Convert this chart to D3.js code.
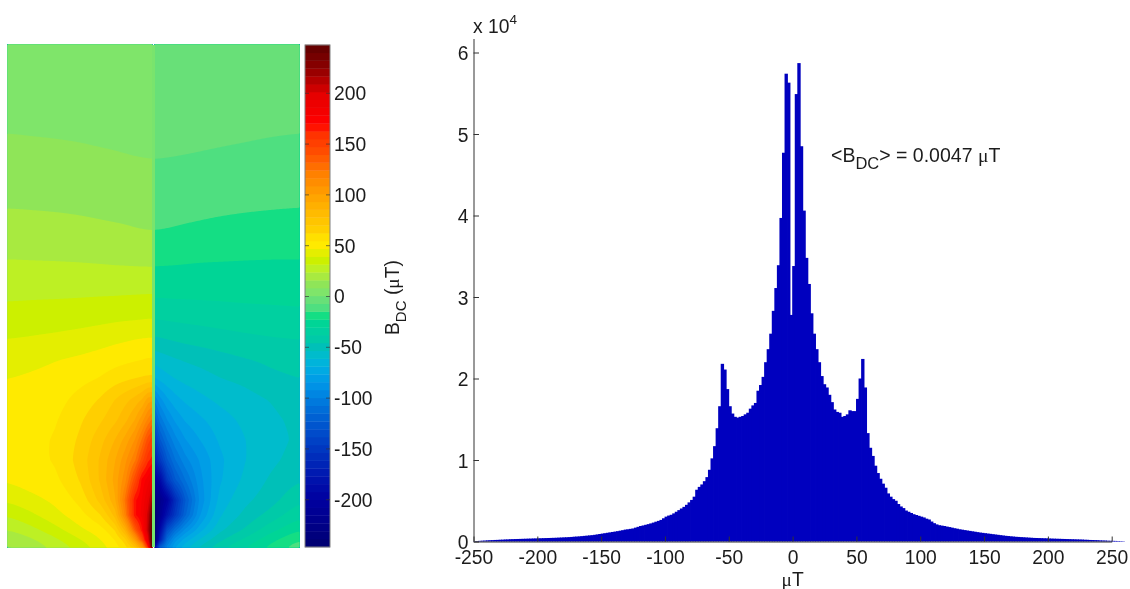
<!DOCTYPE html>
<html><head><meta charset="utf-8">
<script src="https://cdn.jsdelivr.net/npm/d3@7/dist/d3.min.js"></script>
<style>
html,body{margin:0;padding:0;background:#fff;overflow:hidden}
svg{display:block;filter:blur(0.45px)}
text{font-family:"Liberation Sans",Arial,sans-serif;fill:#1c1c1c}
.mu{font-family:"Liberation Serif",serif}
</style></head><body>
<svg id="c" width="1130" height="589"></svg>
<script>
// ---------- histogram data: counts in units of 10^4, one per 2 uT bin ----------
const binStart = -250, binWidth = 2;
const histValues = [
.004,.006,.008,.010,.012,.014,.016,.017,.019,.020,
.022,.023,.025,.026,.028,.029,.030,.031,.032,.033,
.034,.035,.036,.037,.038,.039,.040,.041,.042,.043,
.044,.045,.046,.048,.049,.051,.052,.054,.056,.059,
.061,.063,.066,.069,.072,.075,.078,.082,.087,.092,
.097,.102,.107,.112,.117,.122,.127,.133,.139,.146,
.150,.155,.160,.170,.180,.190,.197,.205,.213,.222,
.232,.243,.253,.265,.285,.305,.318,.328,.345,.365,
.385,.405,.425,.450,.480,.510,.550,.635,.670,.700,
.740,.790,.880,1.02,1.17,1.39,1.66,2.18,2.11,1.87,
1.66,1.57,1.53,1.52,1.53,1.54,1.56,1.58,1.63,1.67,
1.70,1.85,1.92,2.02,2.20,2.36,2.55,2.83,3.11,3.39,
3.97,4.77,5.74,5.63,2.78,
3.38,5.49,5.87,4.85,4.06,3.48,3.16,2.80,2.55,2.36,
2.20,2.03,1.93,1.89,1.80,1.71,1.62,1.59,1.58,1.53,
1.54,1.56,1.61,1.60,1.60,1.75,2.00,2.24,1.89,1.33,
1.15,1.05,.93,.84,.77,.71,.66,.59,.55,.52,
.50,.46,.43,.41,.38,.365,.35,.335,.325,.315,
.305,.295,.28,.27,.245,.225,.21,.20,.195,.19,
.183,.177,.17,.163,.157,.15,.145,.14,.135,.13,
.125,.12,.115,.11,.106,.102,.098,.094,.09,.086,
.082,.078,.074,.07,.067,.064,.061,.058,.056,.054,
.052,.05,.048,.046,.044,.043,.042,.041,.04,.039,
.037,.036,.035,.034,.033,.032,.031,.030,.029,.028,
.027,.026,.025,.024,.022,.021,.019,.018,.017,.016,
.014,.013,.012,.010,.009,.008,.007,.006,.005,.004];
const histXTicks = [-250,-200,-150,-100,-50,0,50,100,150,200,250];
const histYTicks = [0,1,2,3,4,5,6];
const xLabel = "T", annotationValue = "= 0.0047 ";

// ---------- field map data: uT read at image rows / columns ----------
const fieldRows = [45,100,135,170,209,235,260,280,302,320,339,360,378,400,420,440,460,480,500,515,530,540,547];
const leftCols  = [8,30,55,80,100,115,125,135,142,148,152];
const leftField = [
[3,3,3,3,3,3,3,3,3,3,3],
[5.9,5.8,5.7,5.6,5.4,5.3,5.2,5.1,5,5,5],
[7.7,7.5,7.3,7,6.6,6.4,6.2,6,6,5.9,5.9],
[11.3,11,10.7,10.3,9.8,9.4,9.1,8.8,8.7,8.6,8.5],
[15.4,15.2,14.9,14.5,14,13.6,13.4,13.1,13,12.9,12.8],
[19.4,19.2,19,18.3,17.6,17.2,16.9,16.3,16.1,15.9,15.9],
[23.2,23,22.8,22.5,22,21.5,21.3,21,20.8,20.8,20.8],
[26.9,27,27.1,27.2,27.4,27.4,27.6,27.6,27.6,27.6,27.6],
[30.9,31.2,31.4,31.7,32,32.1,32.3,32.4,32.6,32.7,32.7],
[34.6,35,35.4,36.1,36.9,37.7,38.1,38.3,38.6,39,39],
[38.6,39.2,40.2,41.6,43.2,44.6,45.4,46.3,46.7,47,47],
[42.7,44,46.2,47.8,49.5,51.3,52.4,53.4,54,55,55],
[46.3,47.5,49,51.5,54,57.7,59.3,60.7,61.5,62,62],
[48,49.5,51,56.8,62.5,70,75,80,85,98,100],
[49,51,53,60.5,68,75,82,92,105,118,125],
[50,52,54.5,63,74,85,95,108,125,143,150],
[50,52,54.5,65,78,92,105,122,143,160,165],
[47.5,50,52,62,78,95,112,145,172,182,190],
[40,44,48,56,72,90,125,168,178,195,215],
[31.5,37,44,51,60,78,118,168,180,205,238],
[23,28,36,45,50,58,85,135,168,210,247],
[17,21,29,38,46,52,60,100,140,195,247],
[12,16,23,32,41,50,53,60,90,165,247]];
const rightCols = [155,160,167,175,185,200,220,245,270,299];
const rightField = [
[-3,-3,-3,-3,-3,-3,-3,-3,-3,-3],
[-5,-5,-5,-5,-5,-5.2,-5.4,-5.6,-5.8,-5.9],
[-5.9,-5.9,-5.9,-6,-6.1,-6.3,-6.6,-7,-7.4,-7.7],
[-8.5,-8.6,-8.7,-8.8,-9,-9.3,-9.8,-10.3,-10.9,-11.3],
[-12.8,-12.9,-13,-13.2,-13.4,-13.8,-14.3,-14.8,-15.2,-15.5],
[-15.9,-16,-16.2,-16.5,-17,-17.5,-18.3,-19,-19.2,-19.5],
[-21,-21.2,-21.4,-21.6,-22,-22.5,-22.7,-23,-23.2,-23.2],
[-27.5,-27.4,-27.3,-27.2,-27.2,-27.1,-27,-26.8,-26.6,-26.5],
[-31.5,-31.4,-31.3,-31.2,-31.1,-31,-30.8,-30.3,-30,-29.5],
[-39,-38.6,-38.2,-37.8,-37.3,-36.7,-36,-35.3,-34.8,-34.3],
[-47.5,-47,-46,-45,-44,-43,-41.5,-40,-39,-38.4],
[-60,-58,-56.5,-55,-53.5,-52,-49.5,-47,-45,-43],
[-70,-66,-63,-61,-59,-57,-54,-52,-48,-46.3],
[-100,-88,-78,-72,-68,-64,-60,-57,-54,-49],
[-122,-105,-92,-83,-76,-71,-65,-60,-56,-52],
[-145,-125,-108,-95,-85,-77,-68,-62,-56.5,-53],
[-170,-150,-125,-108,-95,-84,-71,-62,-56,-51],
[-205,-190,-150,-125,-108,-87,-70,-60,-53,-47],
[-235,-220,-200,-160,-125,-90,-66,-56,-50,-40],
[-247,-215,-180,-150,-118,-85,-62,-52,-44,-33],
[-247,-190,-135,-110,-90,-72,-56,-46,-34,-24],
[-247,-170,-110,-85,-72,-60,-48,-37,-26,-15],
[-190,-120,-90,-72,-62,-50,-38,-28,-18,-8]];
const seamValue = 2;

// ---------- colour bar ----------
const cbarLimit = 247, cbarBandCount = 64;
const cbarTicks = [-200,-150,-100,-50,0,50,100,150,200];
const colorStopValues = [-247,-225,-200,-175,-150,-125,-100,-85,-75,-66,-58,-50,-42.5,-34.7,-27,-19.3,-11.6,-3.86,3.86,11.6,19.3,27,34.7,42.5,50,58,65,80,100,120,140,160,170,197,225,247];
const colorStopColors = ["#000070","#000088","#0000a0","#0018b0","#0038c0","#0058d0","#0080e0","#0098e8","#00a8e4","#00b4dc","#00bccc","#00c0b8","#00caa8","#00d0a0","#00d596","#14de84","#4fdf80","#68e078","#7fe56a","#8fe558","#a8ea40","#bdf024","#ccf000","#e4ee00","#ffea00","#ffe000","#ffd000","#ffbc00","#ffa000","#ff8000","#ff5000","#ff3000","#ff0000","#e60000","#8a0000","#600000"];

const color = d3.scaleLinear().domain(colorStopValues).range(colorStopColors).clamp(true);
const bandStep = 2*cbarLimit/cbarBandCount;
const bandEdges = d3.range(cbarBandCount).map(i => -cbarLimit + i*bandStep);
const svg = d3.select("#c");
const fmt = d => String(d);

// ---------- field panels ----------
const rowScale = d3.scaleLinear().domain(fieldRows).range(d3.range(fieldRows.length)).clamp(true);
function drawField(cols, field, x0, x1, top, bottom){
  const colScale = d3.scaleLinear().domain(cols).range(d3.range(cols.length)).clamp(true);
  const w = x1 - x0 + 1, h = bottom - top + 1, vals = new Float64Array(w*h);
  for (let j=0;j<h;j++){
    const fy = rowScale(top+j), r0 = Math.min(Math.floor(fy), fieldRows.length-2), ty = fy-r0;
    for (let i=0;i<w;i++){
      const fx = colScale(x0+i), c0 = Math.min(Math.floor(fx), cols.length-2), tx = fx-c0;
      vals[j*w+i] = (1-ty)*((1-tx)*field[r0][c0]+tx*field[r0][c0+1]) + ty*((1-tx)*field[r0+1][c0]+tx*field[r0+1][c0+1]);
    }
  }
  // Soften the read-grid creases away from the sharp centre; keep the strong core as read.
  const soft = {data: Float64Array.from(vals), width: w, height: h};
  d3.blur2(soft, 7);
  const out = new Float64Array(w*h);
  for (let k=0;k<w*h;k++){
    const t = Math.min(1, Math.abs(vals[k])/130);
    out[k] = t*vals[k] + (1-t)*soft.data[k];
  }
  const cs = d3.contours().size([w,h]).smooth(true).thresholds(bandEdges)(out);
  const g = svg.append("g").attr("transform",`translate(${x0-0.5},${top-0.5})`);
  g.selectAll("path").data(cs).join("path")
    .attr("d", d3.geoPath())
    .attr("fill", d => color(d.value + bandStep/2));
}
drawField(leftCols, leftField, 8, 152, 45, 547);
drawField(rightCols, rightField, 155, 299, 45, 547);
svg.append("rect").attr("x",152).attr("y",45).attr("width",3).attr("height",502)
   .attr("fill", color(seamValue));

// ---------- colour bar ----------
const cbarY = d3.scaleLinear().domain([-cbarLimit,cbarLimit]).range([547,45]);
const cbarG = svg.append("g");
cbarG.selectAll("rect").data(bandEdges).join("rect")
  .attr("x",305).attr("width",25)
  .attr("y", d => cbarY(d+bandStep)-0.2)
  .attr("height", cbarY(0)-cbarY(bandStep)+0.4)
  .attr("fill", d => color(d+bandStep/2));
cbarG.append("rect").attr("x",305).attr("y",45).attr("width",25).attr("height",502)
  .attr("fill","none").attr("stroke","#808080").attr("stroke-width",1);
const cbarAxisR = svg.append("g").attr("transform","translate(330,0)")
  .call(d3.axisRight(cbarY).tickValues(cbarTicks).tickSize(-4).tickFormat(fmt));
const cbarAxisL = svg.append("g").attr("transform","translate(305,0)")
  .call(d3.axisLeft(cbarY).tickValues(cbarTicks).tickSize(-4).tickFormat(""));
[cbarAxisR,cbarAxisL].forEach(a=>{a.select(".domain").remove();a.selectAll("line").attr("stroke","#333").attr("opacity",.65);});
cbarAxisR.selectAll("text").attr("font-size",19.3).attr("x",4).attr("dy","0.36em").style("text-anchor","start");
const cbLabel = svg.append("text").attr("transform","translate(398.5,335) rotate(-90)").attr("font-size",19.3);
cbLabel.append("tspan").text("B");
cbLabel.append("tspan").attr("dy",7).attr("font-size",15).text("DC");
cbLabel.append("tspan").attr("dy",-7).text(" (");
cbLabel.append("tspan").attr("class","mu").text("\u03BC");
cbLabel.append("tspan").text("T)");

// ---------- histogram ----------
const x = d3.scaleLinear().domain([-250,250]).range([473.5,1111.7]);
const y = d3.scaleLinear().domain([0,6]).range([541.5,52.5]);
svg.append("g").selectAll("rect").data(histValues).join("rect")
  .attr("x",(d,i)=>x(binStart+i*binWidth)-0.4)
  .attr("width",x(binWidth)-x(0)+0.8)
  .attr("y",d=>y(d))
  .attr("height",d=>y(0)-y(d))
  .attr("fill","#0000bf");

const ax = svg.append("g").attr("transform",`translate(0,${y(0)})`)
  .call(d3.axisBottom(x).tickValues(histXTicks).tickSizeInner(-5).tickSizeOuter(0).tickFormat(fmt));
const ay = svg.append("g").attr("transform",`translate(${x(-250)},0)`)
  .call(d3.axisLeft(y).tickValues(histYTicks).tickSizeInner(-5.5).tickSizeOuter(0).tickPadding(5).tickFormat(fmt));
[ax,ay].forEach(a=>{a.selectAll("line,path").attr("stroke","#333").attr("stroke-width",1);a.selectAll("text").attr("font-size",19.3);});
ax.selectAll("text").attr("y",9).attr("dy","0.71em");
ay.select(".domain").attr("d",`M0.5,${y(0)}V39`);
ay.selectAll("text").attr("dy","0.37em");

const xl = svg.append("text").attr("x",x(0)).attr("y",586).attr("text-anchor","middle").attr("font-size",19.3);
xl.append("tspan").attr("class","mu").text("\u03BC");
xl.append("tspan").text(xLabel);

const exp = svg.append("text").attr("x",473).attr("y",32.5).attr("font-size",19.3);
exp.append("tspan").text("x 10");
exp.append("tspan").attr("dy",-9).attr("font-size",13.5).text("4");

const ann = svg.append("text").attr("x",831).attr("y",162).attr("font-size",19.5);
ann.append("tspan").text("<B");
ann.append("tspan").attr("dy",7).attr("font-size",16.5).text("DC");
ann.append("tspan").attr("dy",-7).text("> "+annotationValue);
ann.append("tspan").attr("class","mu").text("\u03BC");
ann.append("tspan").text("T");
</script>
</body></html>
